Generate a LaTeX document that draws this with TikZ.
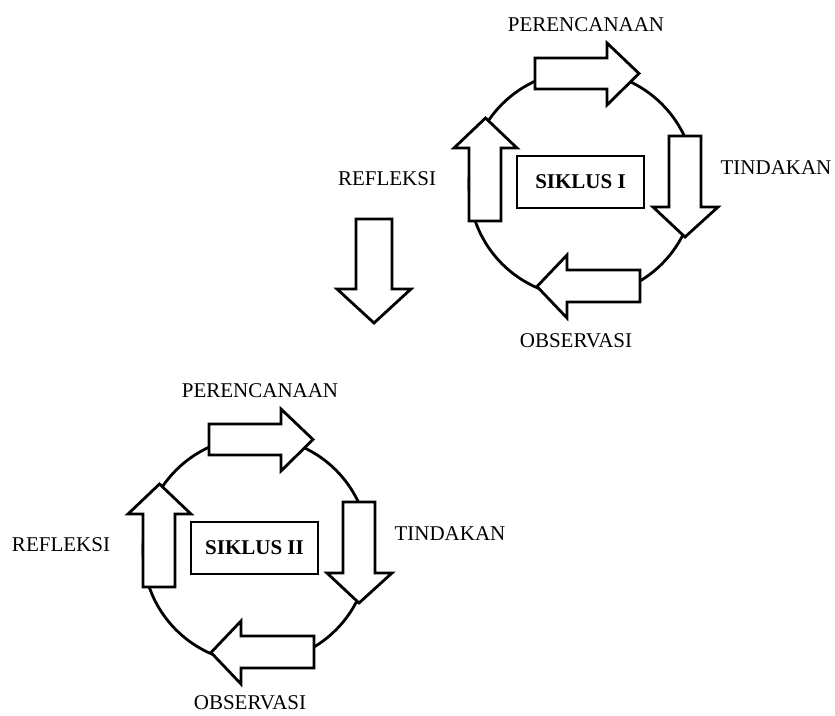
\documentclass[tikz,border=0pt]{standalone}
\usepackage{fontspec}
\setmainfont{Liberation Serif}
\begin{document}
\begin{tikzpicture}[x=1pt,y=-1pt,
  line join=miter,
  ring/.style={draw=black,line width=2.8pt},
  blockarrow/.style={draw=black,fill=white,line width=2.8pt},
  cyclebox/.style={draw=black,fill=white,line width=2.8pt,minimum width=127pt,minimum height=52pt,inner sep=0pt,font=\fontsize{21}{25}\selectfont\bfseries},
  lab/.style={inner sep=0pt,font=\fontsize{21}{25}\selectfont}]
\useasboundingbox (0,0) rectangle (835,715);
\foreach \dx/\dy/\nm/\txt/\oy in {0/0/a/SIKLUS I/341, -326/366/b/SIKLUS II/337}{
  \begin{scope}[shift={(\dx,\dy)}]
    \draw[ring] (582,184) circle[radius=113];
    % top arrow (right)
    \draw[blockarrow] (535,58) -- (607,58) -- (607,43) -- (639,73.5) -- (607,105) -- (607,89) -- (535,89) -- cycle;
    % right arrow (down)
    \draw[blockarrow] (669,136) -- (701,136) -- (701,207) -- (718,207) -- (685,237) -- (653,207) -- (669,207) -- cycle;
    % bottom arrow (left)
    \draw[blockarrow] (640,270) -- (567,270) -- (567,255) -- (537,286.5) -- (567,318) -- (567,302) -- (640,302) -- cycle;
    % left arrow (up)
    \draw[blockarrow] (469,221) -- (469,148) -- (454,148) -- (485.5,118) -- (517,148) -- (501,148) -- (501,221) -- cycle;
    \node[cyclebox] (box\nm) at (580.5,182) {\txt};
    \node[lab] (plan\nm) at (586,25) {PERENCANAAN};
    \node[lab] (act\nm) at (776,168) {TINDAKAN};
    \node[lab] (refl\nm) at (387,179) {REFLEKSI};
    \node[lab] (obs\nm) at (576,\oy) {OBSERVASI};
  \end{scope}
}
% transition arrow
\draw[blockarrow] (356,219) -- (392,219) -- (392,289) -- (411,289) -- (374,323) -- (337,289) -- (356,289) -- cycle;
\end{tikzpicture}
\end{document}
